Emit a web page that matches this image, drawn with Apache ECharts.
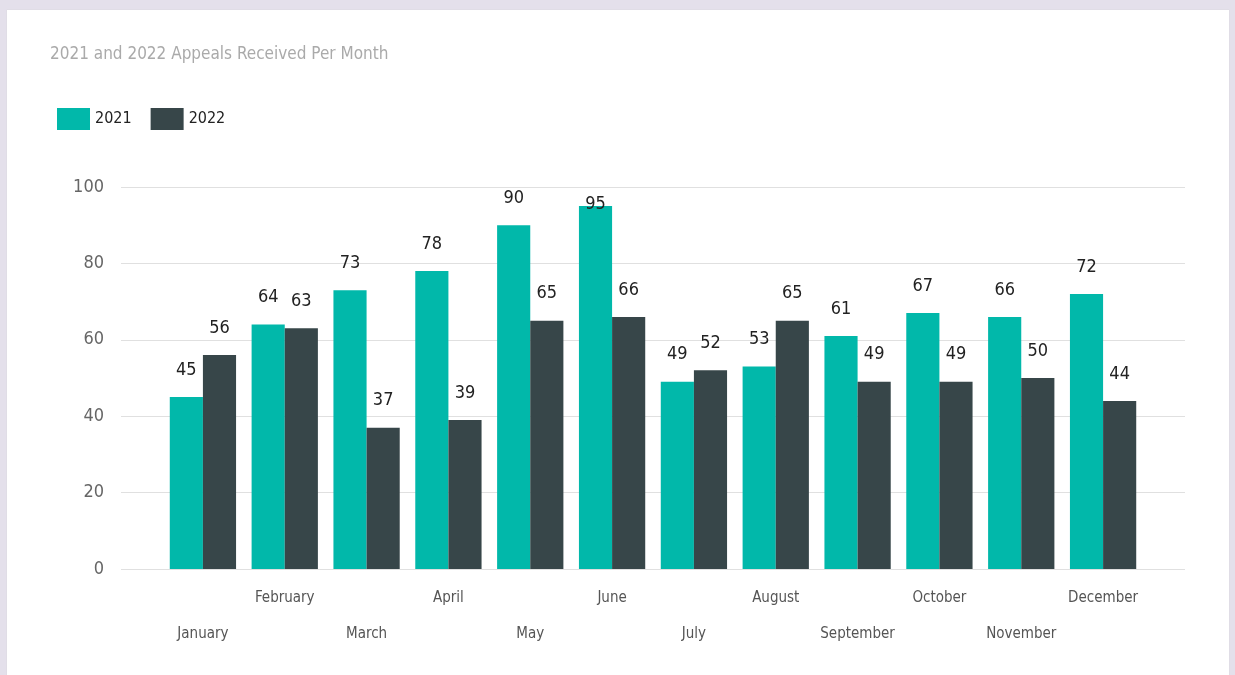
<!DOCTYPE html>
<html>
<head>
<meta charset="utf-8">
<script src="https://cdn.jsdelivr.net/npm/echarts@6/dist/echarts.min.js"></script>
<style>
    html, body { margin: 0; padding: 0; background: #e4e0eb; }
    #panel { position: absolute; left: 7px; top: 10px; width: 1222px; height: 665px; background: #fff; box-shadow: 0 0 1px #ccc; }
    #echart { position: absolute; left: 0; top: 0; width: 1235px; height: 675px; }
</style>
</head>
<body>
<div id="panel"></div>
<div id="echart"></div>
<script>
// 数据
var months = ['January', 'February', 'March', 'April', 'May', 'June', 'July', 'August', 'September', 'October', 'November', 'December'];
var values2021 = [45, 64, 73, 78, 90, 95, 49, 53, 61, 67, 66, 72];
var values2022 = [56, 63, 37, 39, 65, 66, 52, 65, 49, 49, 50, 44];
var yTicks = [0, 20, 40, 60, 80, 100];

var font = "'DejaVu Sans Condensed', 'Liberation Sans Narrow', sans-serif";

// 标签放不下时压到柱子里面
function toItems(arr) {
    var list = [];
    for (var i = 0; i < arr.length; i++) {
        var v = arr[i];
        if (v > 92) {
            list.push({value: v, label: {distance: -7}});
        } else {
            list.push(v);
        }
    }
    return list;
}

var labelStyle = {
    show: true,
    position: 'top',
    distance: 18,
    color: '#222',
    fontSize: 18,
    fontFamily: font
};

var myChart = echarts.init(document.getElementById('echart'));
var option = {
    backgroundColor: 'transparent',
    animation: false,
    title: {
        text: '2021 and 2022 Appeals Received Per Month',
        left: 45,
        top: 41,
        textStyle: {color: '#aaa', fontSize: 17, fontWeight: 'normal', fontFamily: font}
    },
    legend: {
        data: ['2021', '2022'],
        left: 52,
        top: 103,
        icon: 'rect',
        itemWidth: 33,
        itemHeight: 22,
        itemGap: 19,
        textStyle: {color: '#222', fontSize: 16, fontFamily: font}
    },
    grid: [
        {left: 121, right: 50, top: 187, bottom: 106},
        {left: 162, right: 91, top: 187, bottom: 106}
    ],
    xAxis: [
        {
            type: 'category', gridIndex: 0, data: months, show: false
        },
        {
            type: 'category', gridIndex: 1, data: months,
            axisLine: {show: false},
            axisTick: {show: false},
            axisLabel: {
                interval: 0,
                color: '#555',
                fontSize: 15,
                fontFamily: font,
                lineHeight: 36,
                margin: 11,
                formatter: function (val, idx) {
                    return idx % 2 === 0 ? '\n' + val : val;
                }
            }
        }
    ],
    yAxis: [
        {
            type: 'value', gridIndex: 0, min: 0, max: 100, interval: 20,
            axisLine: {show: false},
            axisTick: {show: false},
            axisLabel: {color: '#666', fontSize: 18, fontFamily: font, margin: 17},
            splitLine: {lineStyle: {color: '#e0e0e0', width: 1}}
        },
        {
            type: 'value', gridIndex: 1, min: 0, max: 100, interval: 20,
            show: false, splitLine: {show: false}
        }
    ],
    series: [
        {
            name: '2021', type: 'bar', xAxisIndex: 1, yAxisIndex: 1,
            data: toItems(values2021),
            itemStyle: {color: '#01B8AA'},
            barGap: '0%', barCategoryGap: '19%',
            label: labelStyle
        },
        {
            name: '2022', type: 'bar', xAxisIndex: 1, yAxisIndex: 1,
            data: toItems(values2022),
            itemStyle: {color: '#374649'},
            barGap: '0%', barCategoryGap: '19%',
            label: labelStyle
        }
    ]
};
myChart.setOption(option);
</script>
</body>
</html>
